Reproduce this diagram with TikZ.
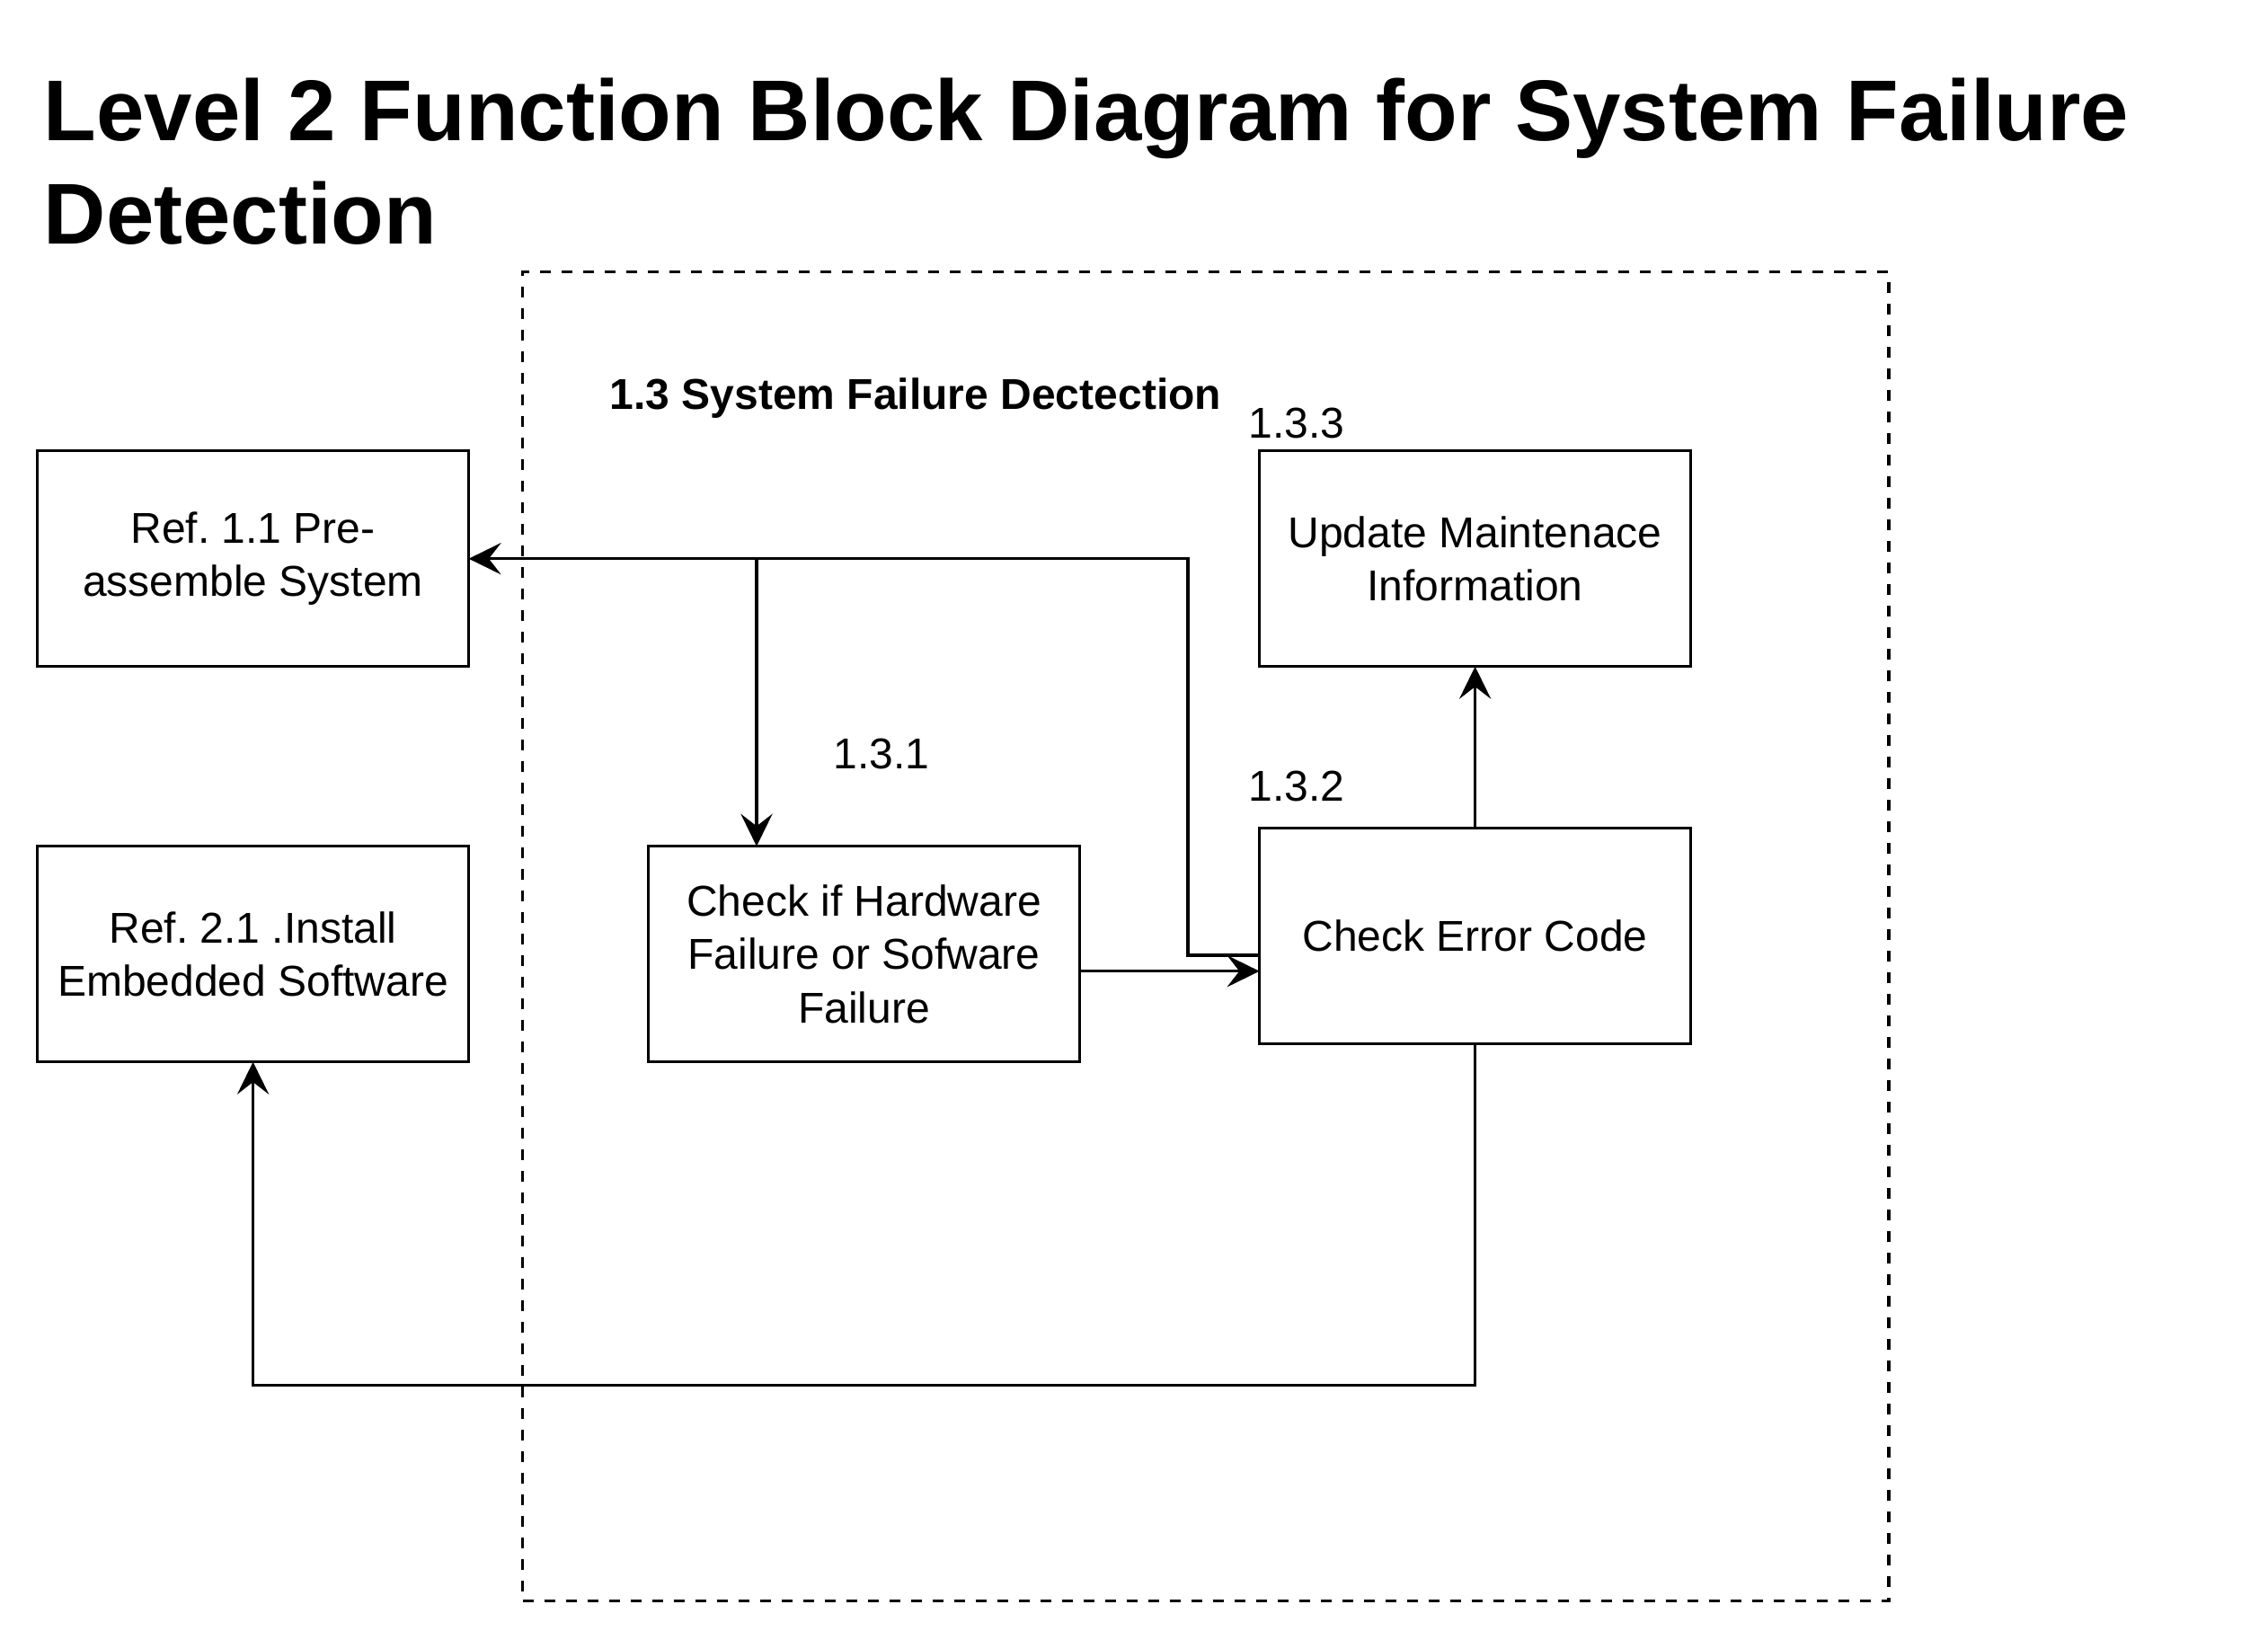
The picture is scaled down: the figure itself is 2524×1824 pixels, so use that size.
\documentclass[tikz,border=0pt]{standalone}
\usepackage{fontspec}
\setmainfont{Liberation Sans}
\usetikzlibrary{positioning}
\usetikzlibrary{arrows.meta}
\frenchspacing

\begin{document}
\begin{tikzpicture}[x=0.25pt,y=-0.25pt]
\tikzset{block/.style={rectangle, draw, line width=0.85pt, outer sep=0pt, fill=white, minimum width=120pt, minimum height=60pt, align=center, font=\fontsize{12}{14.8}\selectfont}}
\tikzset{flow/.style={line width=0.85pt, -{Stealth[length=9pt,width=8.8pt,inset=3.4pt]}}}
\tikzset{tag/.style={font=\fontsize{12}{14.8}\selectfont, inner sep=0pt}}
\tikzset{frame/.style={rectangle, draw, line width=0.8pt, dash pattern=on 3pt off 3pt, minimum width=380.1pt, minimum height=369.75pt}}
\useasboundingbox (0,0) rectangle (2524,1824);
% title
\node[anchor=north west, align=left, inner sep=0pt, font=\bfseries\fontsize{24}{28.9}\selectfont] (title) at (48,86) {Level 2 Function Block Diagram for System Failure\\Detection};
% dashed scope of 1.3
\node[frame] (scope) at (1341.85,1042.2) {};
\node[tag, font=\bfseries\fontsize{12}{14.8}\selectfont, anchor=base west] (subtitle) at (678,455) {1.3 System Failure Dectection};
% blocks
\node[block] (ref11) at (281.6,621.7) {Ref. 1.1 Pre-\\assemble System};
\node[block, below = 50pt of ref11] (ref21) {Ref. 2.1 .Install\\Embedded Software};
\node[block, right = 50pt of ref21] (chk) {Check if Hardware\\Failure or Sofware\\Failure};
\node[block, right = 50pt of chk, yshift=5pt] (err) {Check Error Code};
\node[block, above = 45pt of err] (upd) {Update Maintenace\\Information};
% numbers
\node[tag, anchor=base west] (n131) at (927,855) {1.3.1};
\node[tag, anchor=base west] (n132) at (1389,891) {1.3.2};
\node[tag, anchor=base west] (n133) at (1389,487) {1.3.3};
% connectors
\coordinate (turn) at (1322,621.7);
\coordinate (split) at (842,621.7);
\coordinate (low) at (281.6,1541.7);
\draw[flow] ([yshift=-5.3pt]err.west) -| (turn) -- (ref11.east);
\draw[flow] (split) -- (split |- chk.north);
\draw[flow] ([yshift=-4.75pt]chk.east) -- ([yshift=-4.75pt]chk.east -| err.west);
\draw[flow] (err.north) -- (upd.south);
\draw[flow] (err.south) |- (low) -- (ref21.south);
\end{tikzpicture}
\end{document}
